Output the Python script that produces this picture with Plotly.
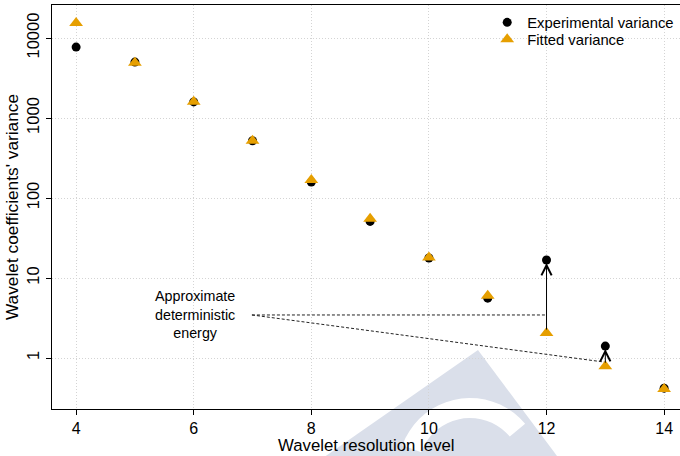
import numpy as np
import plotly.graph_objects as go

# ---------------- data ----------------
levels = [4, 5, 6, 7, 8, 9, 10, 11, 12, 13, 14]
experimental = [7700, 5000, 1590, 520, 158, 51, 17.8, 5.6, 16.8, 1.41, 0.42]
fitted = [15400, 4900, 1600, 520, 168, 55, 18, 6.0, 2.05, 0.79, 0.41]

arrow_levels = [12, 13]

label_text = "Approximate<br>deterministic<br>energy"
label_pos = (6.02, 3.45)
leader_start = (6.99, 3.45)
leader_ends = [(12, 3.45), (12.98, 0.89)]

x_ticks = [4, 6, 8, 10, 12, 14]
y_ticks = [1, 10, 100, 1000, 10000]
y_ticktext = ["1", "10", "100", "1000", "10000"]
x_title = "Wavelet resolution level"
y_title = "Wavelet coefficients' variance"

W, H = 680, 456
L, R, T, B = 52, 0, 5, 47
FONT = "Liberation Sans, Arial, Helvetica, sans-serif"
ORANGE = "#E69F00"

fig = go.Figure()

# leader lines
for ex, ey in leader_ends:
    fig.add_trace(go.Scatter(
        x=[leader_start[0], ex], y=[leader_start[1], ey], mode="lines",
        line=dict(color="#222222", width=1, dash="3px,2px"),
        showlegend=False, hoverinfo="skip"))

fig.add_trace(go.Scatter(
    x=levels, y=experimental, mode="markers", name="Experimental variance",
    marker=dict(symbol="circle", size=9, color="black"), legend="legend"))
fig.add_trace(go.Scatter(
    x=levels, y=fitted, mode="markers", name="Fitted variance",
    marker=dict(symbol="triangle-up", size=12, color=ORANGE), legend="legend2"))

# arrows from fitted to experimental
for lv in arrow_levels:
    i = levels.index(lv)
    fig.add_annotation(
        x=lv, y=np.log10(experimental[i]), ax=lv, ay=np.log10(fitted[i]),
        xref="x", yref="y", axref="x", ayref="y", text="", showarrow=True,
        arrowhead=5, arrowsize=2.0, arrowwidth=1, arrowcolor="black",
        standoff=3, startstandoff=2)

fig.add_annotation(
    x=label_pos[0], y=np.log10(label_pos[1]), xref="x", yref="y",
    text=label_text, showarrow=False, align="center",
    font=dict(family=FONT, size=14.3, color="black"))

pw, ph = W - L - R, H - T - B
def P(px, py):
    return (px - L) / pw, (H - B - py) / ph

# x-axis title placed as a paper annotation
fig.add_annotation(
    x=0.5, y=P(0, 445.5)[1], xref="paper", yref="paper", text=x_title,
    showarrow=False, xanchor="center", yanchor="middle",
    font=dict(family=FONT, size=16.8, color="black"))

# watermark (approximate background logo)
def path(points, close=True):
    s = ""
    for k, (px, py) in enumerate(points):
        xx, yy = P(px, py)
        s += ("M" if k == 0 else "L") + f"{xx:.4f},{yy:.4f} "
    return s + ("Z" if close else "")

tri = path([(478, 350), (560, 460), (320, 460)])
fig.add_shape(type="path", path=tri, xref="paper", yref="paper",
              fillcolor="#dadfea", line=dict(width=0), layer="below")
arc_pts = []
cx, cy = 470, 470
for a in np.linspace(200, 320, 20):
    r = 72
    arc_pts.append((cx + r * np.cos(np.radians(a)), cy + r * np.sin(np.radians(a))))
for a in np.linspace(320, 200, 20):
    r = 52
    arc_pts.append((cx + r * np.cos(np.radians(a)), cy + r * np.sin(np.radians(a))))
fig.add_shape(type="path", path=path(arc_pts), xref="paper", yref="paper",
              fillcolor="white", line=dict(width=0), layer="below")

leg_common = dict(xanchor="left", yanchor="top", bgcolor="rgba(0,0,0,0)",
                  itemwidth=30, font=dict(family=FONT, size=14.8, color="black"))
fig.update_layout(
    width=W, height=H,
    margin=dict(l=L, r=R, t=T, b=B, autoexpand=False),
    paper_bgcolor="rgba(0,0,0,0)", plot_bgcolor="rgba(0,0,0,0)",
    font=dict(family=FONT, color="black"),
    legend=dict(x=0.693, y=0.997, **leg_common),
    legend2=dict(x=0.693, y=0.955, **leg_common),
)
fig.update_xaxes(
    range=[3.59, 14.27], tickvals=x_ticks, showline=True, linecolor="black",
    linewidth=1.3, mirror=True, ticks="outside", ticklen=5, tickcolor="black",
    showgrid=True, gridcolor="#d4d4d4", griddash="1px,2px", gridwidth=1,
    zeroline=False, tickfont=dict(size=16))
fig.update_yaxes(
    type="log", range=[-0.6375, 4.4125], tickvals=y_ticks, ticktext=y_ticktext,
    tickangle=-90, showline=True, linecolor="black", linewidth=1.3,
    ticks="outside", ticklen=5, tickcolor="black",
    showgrid=True, gridcolor="#d4d4d4", griddash="1px,2px", gridwidth=1,
    zeroline=False, tickfont=dict(size=16.5),
    title=dict(text=y_title, font=dict(size=17.3), standoff=1))

fig.write_html("out.html")
